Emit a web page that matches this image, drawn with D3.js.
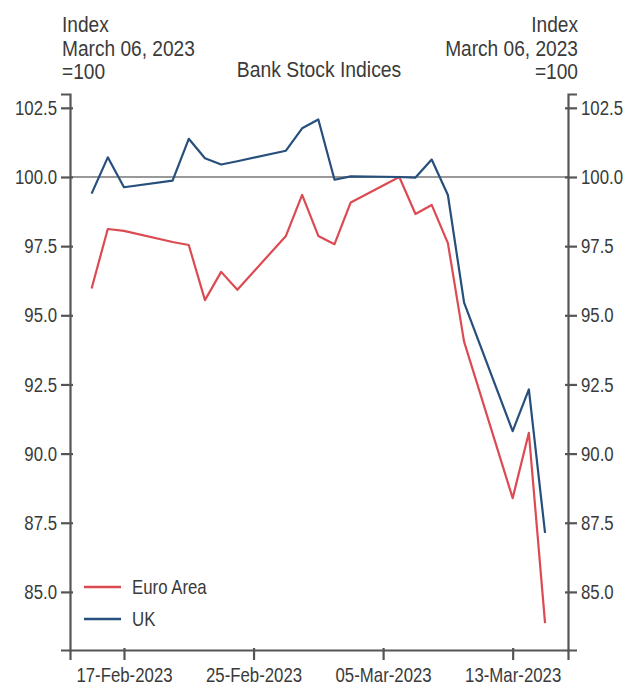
<!DOCTYPE html>
<html lang="en">
<head>
<meta charset="UTF-8">
<title>Bank Stock Indices</title>
<style>
  body { margin: 0; background: #fff; }
  svg { display: block; }
  text { font-family: "Liberation Sans", Arial, sans-serif; fill: #3a3a3a; }
  .axis path, .axis line { stroke: #555; stroke-width: 2.2px; }
  .axis text { font-size: 20.5px; }
</style>
</head>
<body>
<div id="chart"></div>
<script src="https://d3js.org/d3.v7.min.js"></script>
<script>
// trading days (weekdays), Feb 15 - Mar 15 2023
const dates = ["2023-02-15","2023-02-16","2023-02-17","2023-02-20","2023-02-21","2023-02-22","2023-02-23","2023-02-24",
  "2023-02-27","2023-02-28","2023-03-01","2023-03-02","2023-03-03","2023-03-06","2023-03-07","2023-03-08",
  "2023-03-09","2023-03-10","2023-03-13","2023-03-14","2023-03-15"];
const euroArea = [95.97, 98.12, 98.05, 97.65, 97.54, 95.55, 96.57, 95.92,
  97.87, 99.35, 97.87, 97.57, 99.08, 100.0, 98.66, 98.99,
  97.61, 94.05, 88.39, 90.75, 83.87];
const uk = [99.4, 100.71, 99.63, 99.87, 101.38, 100.68, 100.45, 100.57,
  100.95, 101.76, 102.08, 99.9, 100.02, 100.0, 99.98, 100.63,
  99.35, 95.46, 90.81, 92.32, 87.13];
const seriesNames = ["Euro Area", "UK"];
const seriesColors = ["#dc4a52", "#274f7c"];
const yTicks = [85, 87.5, 90, 92.5, 95, 97.5, 100, 102.5];
const xTicks = ["2023-02-17", "2023-02-25", "2023-03-05", "2023-03-13"];

const width = 629, height = 686;
const margin = {top: 94, right: 61, bottom: 36, left: 70};
const squeeze = 0.82; // the source font is a narrow face

const parse = d3.timeParse("%Y-%m-%d");
const fmt = d3.timeFormat("%d-%b-%Y");

const svg = d3.select("#chart").append("svg")
  .attr("width", width).attr("height", height);

const x = d3.scaleTime()
  .domain([new Date(2023, 1, 13, 16), new Date(2023, 2, 16, 10)])
  .range([margin.left, width - margin.right]);
const y = d3.scaleLinear()
  .domain([82.9, 103.0])
  .range([height - margin.bottom, margin.top]);

// reference line at 100
svg.append("line")
  .attr("x1", x.range()[0]).attr("x2", x.range()[1])
  .attr("y1", y(100)).attr("y2", y(100))
  .attr("stroke", "#777").attr("stroke-width", 1.6);

// axes
const xAxis = svg.append("g").attr("class", "axis")
  .attr("transform", `translate(0,${y.range()[0]})`)
  .call(d3.axisBottom(x).tickValues(xTicks.map(parse)).tickFormat(fmt).tickSizeOuter(0).tickSize(10).tickPadding(7));
xAxis.selectAll(".tick line").attr("y1", -2);
xAxis.selectAll(".tick text").attr("transform", `scale(${squeeze},1)`);

const yLeft = svg.append("g").attr("class", "axis")
  .attr("transform", `translate(${x.range()[0]},0)`)
  .call(d3.axisLeft(y).tickValues(yTicks).tickFormat(d3.format(".1f")).tickSizeOuter(0).tickSize(9));
yLeft.selectAll(".tick line").attr("x1", 3);
yLeft.selectAll(".tick text").attr("x", -13 / squeeze).attr("transform", `scale(${squeeze},1)`);

const yRight = svg.append("g").attr("class", "axis")
  .attr("transform", `translate(${x.range()[1]},0)`)
  .call(d3.axisRight(y).tickValues(yTicks).tickFormat(d3.format(".1f")).tickSizeOuter(0).tickSize(9));
yRight.selectAll(".tick line").attr("x1", -3);
yRight.selectAll(".tick text").attr("x", 13 / squeeze).attr("transform", `scale(${squeeze},1)`);

// lines
const line = d3.line().x(d => x(d[0])).y(d => y(d[1]));
[euroArea, uk].forEach((vals, i) => {
  svg.append("path")
    .datum(dates.map((d, j) => [parse(d), vals[j]]))
    .attr("fill", "none")
    .attr("stroke", seriesColors[i])
    .attr("stroke-width", 2.2)
    .attr("stroke-linejoin", "round")
    .attr("d", line);
});

function label(tx, ty, str, size, anchor, sx) {
  return svg.append("g")
    .attr("transform", `translate(${tx},${ty}) scale(${sx || squeeze},1)`)
    .append("text")
    .attr("text-anchor", anchor || "start")
    .style("font-size", size + "px")
    .text(str);
}

// titles
const head = ["Index", "March 06, 2023", "=100"];
head.forEach((t, i) => {
  label(62, 32 + i * 23.5, t, 22.5, "start", 0.85);
  label(578, 32 + i * 23.5, t, 22.5, "end", 0.85);
});
label(319, 77, "Bank Stock Indices", 22.5, "middle", 0.86);

// legend
seriesNames.forEach((n, i) => {
  const ly = 587 + i * 32;
  svg.append("line").attr("x1", 84).attr("x2", 121).attr("y1", ly).attr("y2", ly)
    .attr("stroke", seriesColors[i]).attr("stroke-width", 2.5);
  label(132, ly, n, 20.5).attr("dy", "0.35em");
});
</script>
</body>
</html>
